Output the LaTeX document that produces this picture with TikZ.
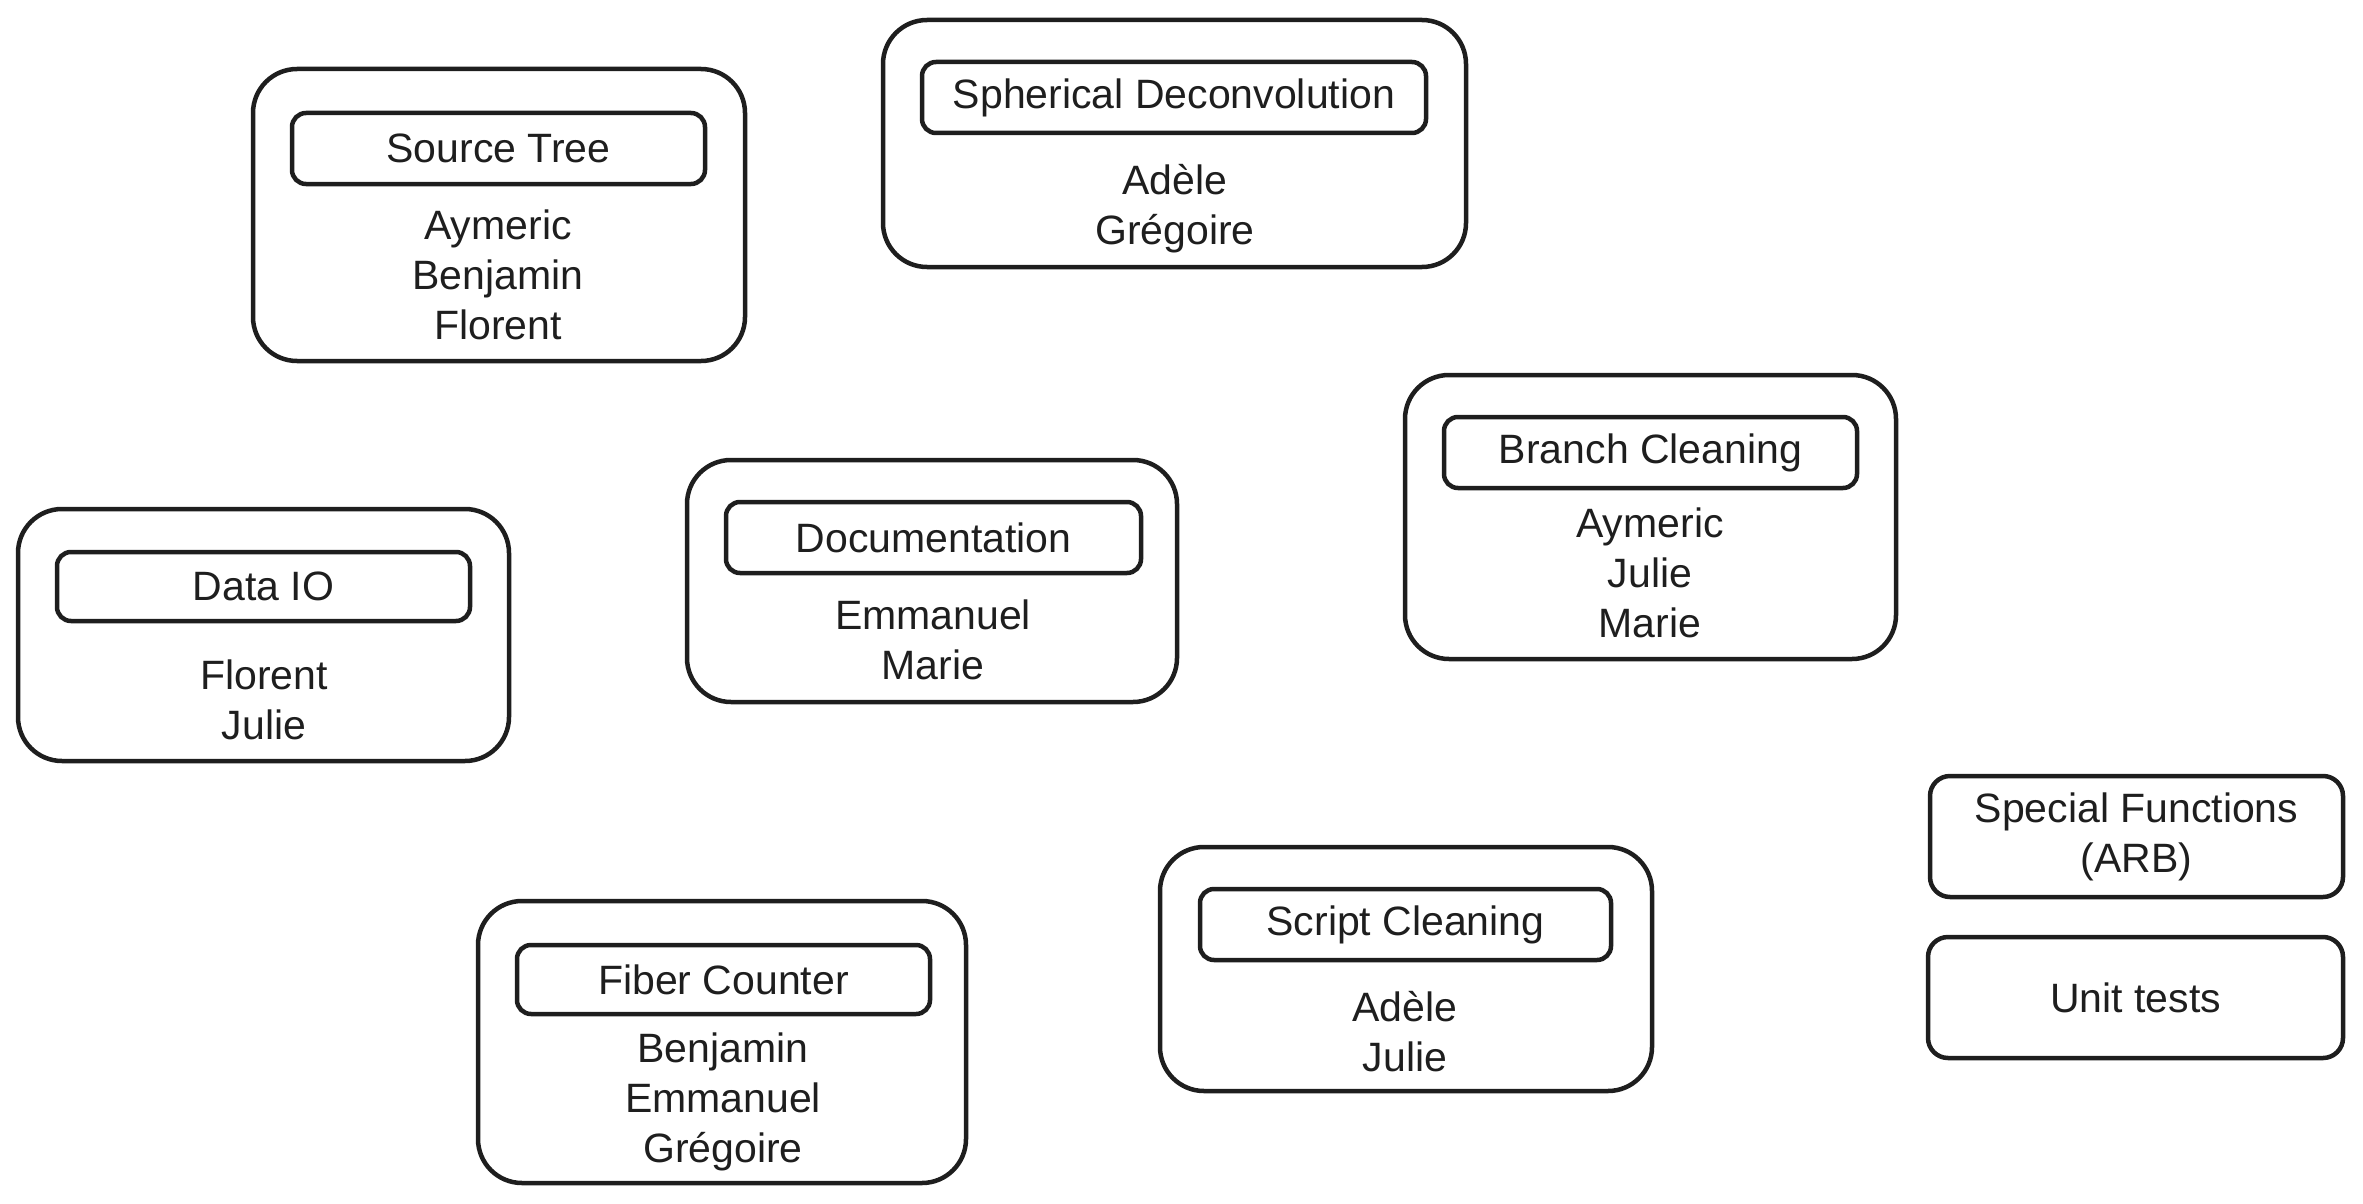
\documentclass[tikz,border=0pt]{standalone}
\usepackage{fontspec}
\setmainfont{Liberation Sans}
\definecolor{ink}{HTML}{1E1E1E}
\tikzset{
  outerbox/.style={draw=ink, line width=4.5pt, rounded corners=44pt, inner sep=0pt},
  titlebox/.style={draw=ink, line width=4.5pt, rounded corners=14pt, inner sep=0pt,
    minimum width=413pt, minimum height=71pt, text=ink, font=\fontsize{41}{50}\selectfont},
  namestext/.style={align=center, text=ink, inner sep=0pt, font=\fontsize{41}{50}\selectfont},
  plainbox/.style={draw=ink, line width=4.5pt, rounded corners=20pt, inner sep=0pt,
    minimum width=413pt, minimum height=121pt, align=center, text=ink, font=\fontsize{41}{50}\selectfont}
}
\begin{document}
\begin{tikzpicture}[x=1pt,y=-1pt]
\useasboundingbox (0,0) rectangle (2363,1204);

% Source Tree
\node[outerbox, minimum width=492pt, minimum height=292pt] (st) at (499,215) {};
\node[titlebox] (stt) at (498.5,148.5) {Source Tree};
\node[namestext] (stn) at (498,275) {Aymeric\\Benjamin\\Florent};

% Spherical Deconvolution
\node[outerbox, minimum width=583pt, minimum height=247pt] (sd) at (1174.5,143.5) {};
\node[titlebox, minimum width=504pt] (sdt) at (1174,97.5) {Spherical Deconvolution};
\node[namestext] (sdn) at (1175,209) {Adèle\\Grégoire};

% Branch Cleaning
\node[outerbox, minimum width=491pt, minimum height=284pt] (bc) at (1650.5,517) {};
\node[titlebox] (bct) at (1650.5,452.5) {Branch Cleaning};
\node[namestext] (bcn) at (1650,573) {Aymeric\\Julie\\Marie};

% Documentation
\node[outerbox, minimum width=490pt, minimum height=242pt] (doc) at (932,581) {};
\node[titlebox, minimum width=415pt] (doct) at (933.5,537.5) {Documentation};
\node[namestext] (docn) at (933,640) {Emmanuel\\Marie};

% Data IO
\node[outerbox, minimum width=491pt, minimum height=252pt] (dio) at (263.5,635) {};
\node[titlebox, minimum height=69pt] (diot) at (263.5,586.5) {Data IO};
\node[namestext] (dion) at (264,700) {Florent\\Julie};

% Fiber Counter
\node[outerbox, minimum width=488pt, minimum height=282pt] (fc) at (722,1042) {};
\node[titlebox, minimum height=69pt] (fct) at (723.5,979.5) {Fiber Counter};
\node[namestext] (fcn) at (723,1102) {Benjamin\\Emmanuel\\Grégoire};

% Script Cleaning
\node[outerbox, minimum width=492pt, minimum height=244pt] (sc) at (1406,969) {};
\node[titlebox, minimum width=411pt] (sct) at (1405.5,924.5) {Script Cleaning};
\node[namestext] (scn) at (1405,1032) {Adèle\\Julie};

% Special Functions / Unit tests
\node[plainbox] (sf) at (2136.5,836.5) {Special Functions\\(ARB)};
\node[plainbox, minimum width=415pt] (ut) at (2135.5,997.5) {Unit tests};
\end{tikzpicture}
\end{document}
